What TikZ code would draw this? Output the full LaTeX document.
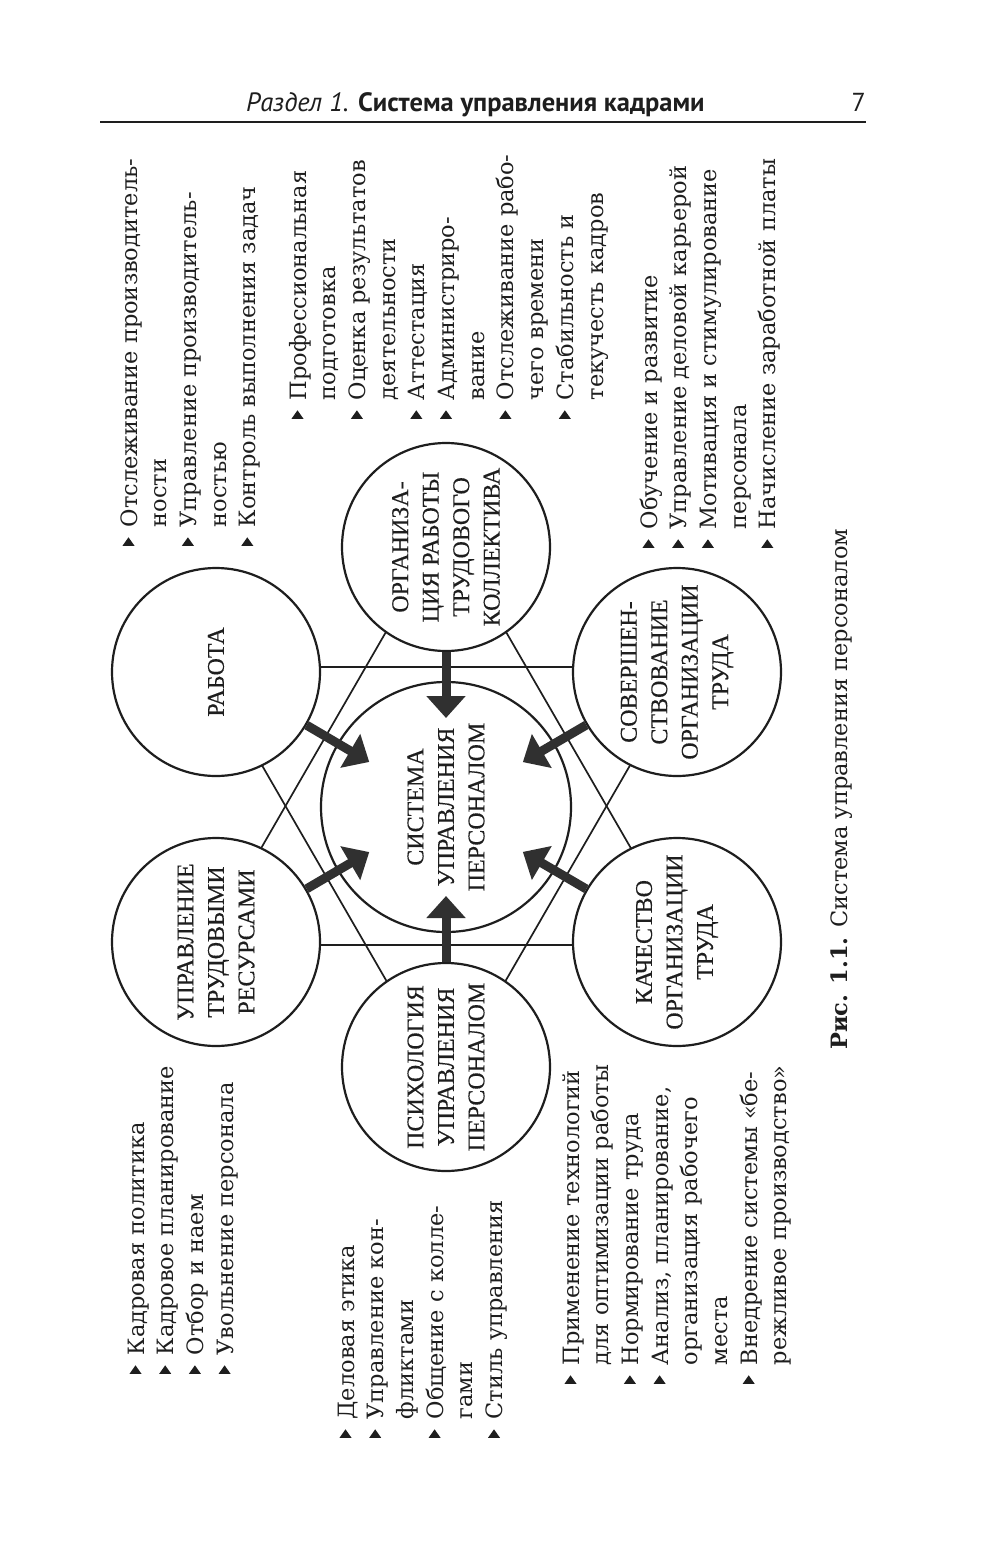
\documentclass[tikz,border=0pt]{standalone}
\usepackage{fontspec}
\setmainfont{DejaVu Serif}
\newfontfamily\circfont[FakeBold=0.35]{Liberation Serif}
\newfontfamily\headfont{PT Sans}
\usetikzlibrary{arrows.meta,calc}
\definecolor{ink}{HTML}{1E1E1E}
\definecolor{arrowink}{HTML}{303030}
\newcommand{\blt}{\tikz[x=1pt,y=1pt,baseline=-2.5pt]\fill[ink] (0,0) -- (0,12) -- (8.5,6) -- cycle;}
\newcommand{\lsize}{\fontsize{22.5}{29.7}\selectfont}
\tikzset{
  ring/.style={circle, draw=ink, line width=2.2pt, fill=white, minimum size=208pt, inner sep=0pt},
  mainring/.style={ring, minimum size=250pt},
  clabel/.style={rotate=90, align=center, font=\circfont\fontsize{24}{30.5}\selectfont, text=ink, inner sep=0pt},
  blist/.style={rotate=90, anchor=base west, inner sep=0pt, font=\lsize, text=ink},
  hexline/.style={draw=ink, line width=1.7pt},
  bigarrow/.style={draw=arrowink, line width=9pt, line cap=butt, -{Triangle[length=22pt,width=38pt]}},
}
\begin{document}
\begin{tikzpicture}[x=1pt,y=-1pt]
\useasboundingbox[fill=white] (0,0) rectangle (1000,1552);
% header
\node[anchor=base west, inner sep=0pt, font=\headfont\fontsize{26.5}{30}\selectfont, text=ink] (head) at (246,112)
  {\textit{Раздел 1.} \textbf{Система управления кадрами}};
\node[anchor=base east, inner sep=0pt, font=\headfont\fontsize{26}{30}\selectfont, text=ink] (pnum) at (866,112) {7};
\coordinate (ruleL) at (100,122);
\coordinate (ruleR) at (866,122);
\draw[ink, line width=2.2pt] (ruleL) -- (ruleR);
% hexagram
\coordinate (hA1) at (205.2,667);
\coordinate (hA2) at (686.8,667);
\coordinate (hA3) at (446,1084);
\coordinate (hB1) at (446,528);
\coordinate (hB2) at (205.2,945);
\coordinate (hB3) at (686.8,945);
\draw[hexline] (hA1) -- (hA2) -- (hA3) -- cycle;
\draw[hexline] (hB1) -- (hB2) -- (hB3) -- cycle;
% circles
\node[mainring] (main) at (446,807) {};
\node[ring] (org) at (446,547) {};
\node[ring] (psy) at (446,1067) {};
\node[ring] (rab) at (216,672) {};
\node[ring] (sov) at (677,672) {};
\node[ring] (upr) at (216,942) {};
\node[ring] (kach) at (677,942) {};
% circle labels
\node[clabel] (mainT) at (main) {СИСТЕМА\\УПРАВЛЕНИЯ\\ПЕРСОНАЛОМ};
\node[clabel] (orgT) at (org) {ОРГАНИЗА-\\ЦИЯ РАБОТЫ\\ТРУДОВОГО\\КОЛЛЕКТИВА};
\node[clabel] (psyT) at (psy) {ПСИХОЛОГИЯ\\УПРАВЛЕНИЯ\\ПЕРСОНАЛОМ};
\node[clabel] (rabT) at (rab) {РАБОТА};
\node[clabel] (sovT) at (sov) {СОВЕРШЕН-\\СТВОВАНИЕ\\ОРГАНИЗАЦИИ\\ТРУДА};
\node[clabel] (uprT) at (upr) {УПРАВЛЕНИЕ\\ТРУДОВЫМИ\\РЕСУРСАМИ};
\node[clabel] (kachT) at (kach) {КАЧЕСТВО\\ОРГАНИЗАЦИИ\\ТРУДА};
% arrows
\foreach \n in {org,psy,rab,sov,upr,kach}{
  \coordinate (tip\n) at ($(main)!89pt!(\n)$);
  \draw[bigarrow] (\n) -- (tip\n);
}
% lists
\node[blist] (l1) at (137,546) {\begin{tabular}[t]{@{}l@{\hspace{10pt}}l@{}}
\blt & Отслеживание производитель-\\
     & ности\\
\blt & Управление производитель-\\
     & ностью\\
\blt & Контроль выполнения задач
\end{tabular}};
\node[blist] (l2) at (306,419) {\begin{tabular}[t]{@{}l@{\hspace{10pt}}l@{}}
\blt & Профессиональная\\
     & подготовка\\
\blt & Оценка результатов\\
     & деятельности\\
\blt & Аттестация\\
\blt & Администриро-\\
     & вание\\
\blt & Отслеживание рабо-\\
     & чего времени\\
\blt & Стабильность и\\
     & текучесть кадров
\end{tabular}};
\node[blist] (l3) at (657,548) {\begin{tabular}[t]{@{}l@{\hspace{10pt}}l@{}}
\blt & Обучение и развитие\\
\blt & Управление деловой карьерой\\
\blt & Мотивация и стимулирование\\
     & персонала\\
\blt & Начисление заработной платы
\end{tabular}};
\node[blist] (l4) at (144,1374) {\begin{tabular}[t]{@{}l@{\hspace{10pt}}l@{}}
\blt & Кадровая политика\\
\blt & Кадровое планирование\\
\blt & Отбор и наем\\
\blt & Увольнение персонала
\end{tabular}};
\node[blist] (l5) at (354,1438) {\begin{tabular}[t]{@{}l@{\hspace{10pt}}l@{}}
\blt & Деловая этика\\
\blt & Управление кон-\\
     & фликтами\\
\blt & Общение с колле-\\
     & гами\\
\blt & Стиль управления
\end{tabular}};
\node[blist] (l6) at (579,1384) {\begin{tabular}[t]{@{}l@{\hspace{10pt}}l@{}}
\blt & Применение технологий\\
     & для оптимизации работы\\
\blt & Нормирование труда\\
\blt & Анализ, планирование,\\
     & организация рабочего\\
     & места\\
\blt & Внедрение системы «бе-\\
     & режливое производство»
\end{tabular}};
% caption
\node[blist] (cap) at (847,1050) {\textbf{Рис. 1.1.} Система управления персоналом};
\end{tikzpicture}
\end{document}
